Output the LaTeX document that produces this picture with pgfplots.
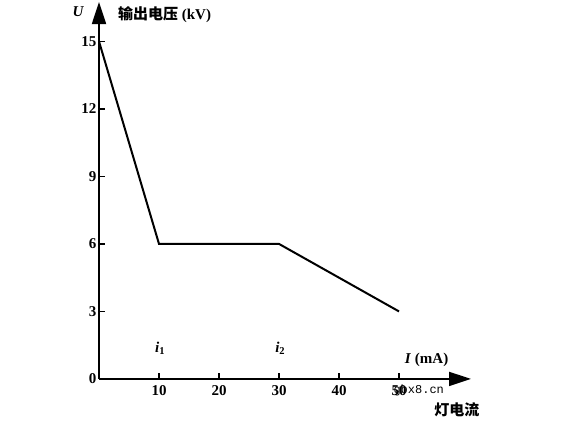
\documentclass[border=0pt]{standalone}
\usepackage{fontspec}
\setmainfont{Liberation Serif}
\newfontfamily\cjk{Noto Sans CJK SC}
\newfontfamily\wm{Liberation Mono}
\usepackage{pgfplots}
\pgfplotsset{compat=1.18}
\usetikzlibrary{arrows.meta}
\begin{document}
\begin{tikzpicture}
\begin{axis}[
  scale only axis, width=372pt, height=376.9pt,
  xmin=0, xmax=62, ymin=0, ymax=16.75,
  axis x line=bottom, axis y line=left,
  axis line style={line width=1.8pt},
  every outer x axis line/.append style={-{Triangle[length=22pt,width=14pt]}},
  every outer y axis line/.append style={-{Triangle[length=22pt,width=14pt]}},
  xtick={10,20,30,40,50}, ytick={0,3,6,9,12,15},
  tick style={line width=1.4pt, black}, major tick length=6pt, tick align=inside,
  ticklabel style={font=\fontsize{15}{15}\selectfont\bfseries},
  xticklabel style={yshift=-3pt},
  yticklabel style={xshift=1pt},
  /pgf/number format/assume math mode=true,
  clip=false,
]
\addplot[black, line width=2pt] coordinates {(0,15) (10,6) (30,6) (50,3)};
\node[anchor=center, font=\fontsize{15}{15}\selectfont\bfseries\itshape] at (axis cs:-3.5,16.3) {U};
\node[anchor=west, font=\fontsize{15}{15}\selectfont\bfseries] at (axis cs:2.6,16.2) {{\cjk\bfseries 输出电压} (kV)};
\node[anchor=center, font=\fontsize{15}{15}\selectfont\bfseries] at (axis cs:10.2,1.38) {\textit{i}\textsubscript{1}};
\node[anchor=center, font=\fontsize{15}{15}\selectfont\bfseries] at (axis cs:30.2,1.38) {\textit{i}\textsubscript{2}};
\node[anchor=west, font=\fontsize{15}{15}\selectfont\bfseries] at (axis cs:50.4,0.85) {\textit{I} (mA)};
\node[anchor=west, font=\fontsize{15}{15}\selectfont] at (axis cs:55.3,-1.38) {\cjk\bfseries 灯电流};
\node[anchor=west, font=\fontsize{12}{12}\selectfont\wm] at (axis cs:48.5,-0.5) {gbx8.cn};
\coordinate (bl) at (axis cs:-16.5,-1.87);
\coordinate (tr) at (axis cs:78.33,16.84);
\end{axis}
\path (bl) rectangle (tr);
\end{tikzpicture}
\end{document}
